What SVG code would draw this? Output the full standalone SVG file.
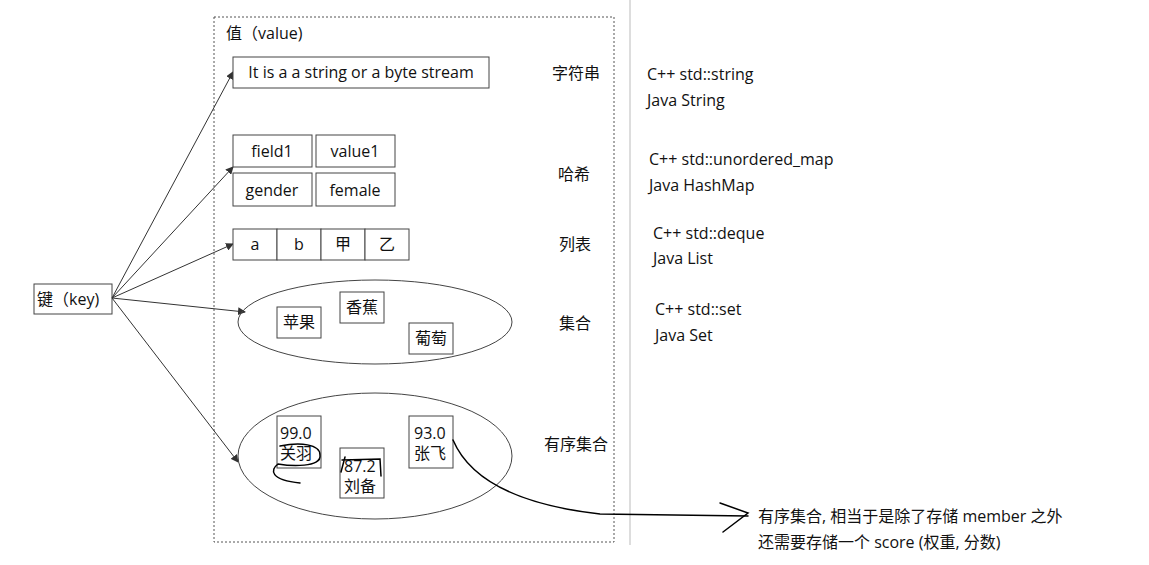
<svg xmlns="http://www.w3.org/2000/svg" width="1149" height="565" viewBox="0 0 1149 565">
<style>
text{font-family:"Open Sans","Noto Sans CJK SC",sans-serif;font-size:16px;fill:#111}
.b{fill:#fff;stroke:#444;stroke-width:1}
.c{text-anchor:middle}
.e{fill:none;stroke:#444;stroke-width:1}
.h{fill:none;stroke:#000;stroke-width:1.5;stroke-linecap:round}
</style>
<defs><marker id="a" markerWidth="8" markerHeight="8" refX="7" refY="4" orient="auto"><path d="M0,0 L8,4 L0,8 z" fill="#333"/></marker></defs>
<rect width="1149" height="565" fill="#fff"/>
<line x1="630" y1="0" x2="630" y2="545" stroke="#ddd" stroke-width="2"/>
<g id="container"><rect x="214" y="17" width="400" height="525" fill="none" stroke="#555" stroke-dasharray="2,2"/><text x="226" y="39">值（value)</text></g>
<g id="key"><rect class="b" x="34" y="284" width="78" height="30"/><text x="37" y="305">键（key)</text></g>
<g id="connectors" stroke="#333" fill="none">
<line x1="112" y1="298" x2="233" y2="72" marker-end="url(#a)"/>
<line x1="112" y1="298" x2="233" y2="167" marker-end="url(#a)"/>
<line x1="112" y1="298" x2="233" y2="244" marker-end="url(#a)"/>
<line x1="112" y1="298" x2="245" y2="312" marker-end="url(#a)"/>
<line x1="112" y1="298" x2="238" y2="462" marker-end="url(#a)"/>
</g>
<g id="string"><rect class="b" x="233" y="57" width="256" height="31"/><text class="c" x="361" y="78">It is a a string or a byte stream</text></g>
<g id="hash">
<rect class="b" x="233" y="135" width="79" height="32"/><text class="c" x="272" y="157">field1</text>
<rect class="b" x="316" y="135" width="79" height="32"/><text class="c" x="355" y="157">value1</text>
<rect class="b" x="233" y="173" width="79" height="33"/><text class="c" x="272" y="196">gender</text>
<rect class="b" x="316" y="173" width="79" height="33"/><text class="c" x="355" y="196">female</text>
</g>
<g id="list">
<rect class="b" x="233" y="229" width="44" height="31"/><text class="c" x="255" y="250">a</text>
<rect class="b" x="277" y="229" width="44" height="31"/><text class="c" x="299" y="250">b</text>
<rect class="b" x="321" y="229" width="44" height="31"/><text class="c" x="343" y="250">甲</text>
<rect class="b" x="365" y="229" width="44" height="31"/><text class="c" x="387" y="250">乙</text>
</g>
<g id="set">
<ellipse class="e" cx="375" cy="322" rx="137" ry="42"/>
<rect class="b" x="277" y="307" width="44" height="31"/><text class="c" x="299" y="328">苹果</text>
<rect class="b" x="340" y="292" width="44" height="31"/><text class="c" x="362" y="313">香蕉</text>
<rect class="b" x="409" y="323" width="44" height="31"/><text class="c" x="431" y="344">葡萄</text>
</g>
<g id="zset">
<ellipse class="e" cx="375" cy="456" rx="137" ry="63"/>
<rect class="b" x="277" y="416" width="44" height="52"/><text x="280" y="439">99.0</text><text x="280" y="459">关羽</text>
<rect class="b" x="340" y="448" width="44" height="50"/><text x="344" y="472">87.2</text><text x="344" y="492">刘备</text>
<rect class="b" x="409" y="416" width="44" height="52"/><text x="414" y="439">93.0</text><text x="414" y="459">张飞</text>
</g>
<g id="labels">
<text x="552" y="79">字符串</text><text x="558" y="180">哈希</text><text x="559" y="250">列表</text><text x="559" y="329">集合</text><text x="544" y="450">有序集合</text>
<text x="647" y="80">C++ std::string</text><text x="647" y="106">Java String</text>
<text x="649" y="165">C++ std::unordered_map</text><text x="649" y="191">Java HashMap</text>
<text x="653" y="239">C++ std::deque</text><text x="653" y="264">Java List</text>
<text x="655" y="315">C++ std::set</text><text x="655" y="341">Java Set</text>
</g>
<g id="annotations">
<path class="h" d="M280,446 C300,442 320,444 320,455 C322,468 290,466 278,464 C270,470 270,480 300,483" stroke-width="1.3"/>
<path class="h" d="M345,457 L341,472 M342,460 L380,459 L381,476" stroke-width="1.2"/>
<path class="h" d="M453,440 C470,480 520,505 600,514 L748,516"/>
<path class="h" d="M720,503 L748,513 L723,532"/>
<text x="758" y="522">有序集合, 相当于是除了存储 member 之外</text>
<text x="758" y="548">还需要存储一个 score (权重, 分数)</text>
</g>
</svg>
